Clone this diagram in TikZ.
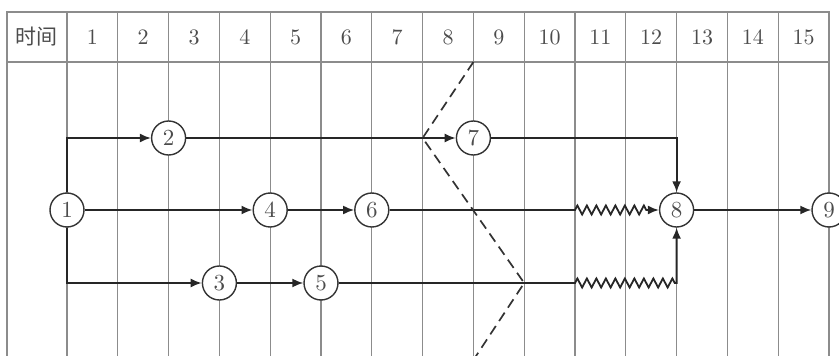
\documentclass[tikz,border=0pt]{standalone}
\usepackage{fontspec}
\setmainfont[Extension=.otf]{lmroman10-regular}
\newfontfamily\cjk{Noto Sans CJK SC}
\usetikzlibrary{decorations.pathmorphing,arrows.meta}
\begin{document}
\begin{tikzpicture}[x=1pt,y=-1pt,
  gridln/.style={draw=black!45,line width=1.3pt},
  hdr/.style={text=black!70,font=\fontsize{22}{24}\selectfont,inner sep=0pt},
  evt/.style={circle,draw=black!80,line width=1.4pt,fill=white,minimum size=34pt,inner sep=0pt,text=black!70,font=\fontsize{23}{24}\selectfont},
  act/.style={draw=black!85,line width=1.8pt,-{Latex[length=11pt,width=9pt]}},
  zz/.style={decoration={zigzag,segment length=9.5pt,amplitude=4.5pt}},
  front/.style={draw=black!80,line width=1.7pt,dash pattern=on 10pt off 6pt}]
\useasboundingbox (0,0) rectangle (839,356);
\clip (0,0) rectangle (839,356);
\def\X#1{67+50.8*#1}
% grid
\draw[gridln] (7,12) rectangle (829,380);
\draw[gridln] (7,62) -- (829,62);
\foreach \k in {0,...,14} \draw[gridln] ({67+50.8*\k},12) -- ({67+50.8*\k},380);
% header
\node[hdr,font=\fontsize{21}{24}\selectfont] (h0) at (37,37) {\cjk 时间};
\foreach \k in {1,...,15} \node[hdr] (h\k) at ({67+50.8*(\k-0.5)},37) {\k};
% events
\node[evt] (n1) at ({\X{0}},210) {1};
\node[evt] (n2) at ({\X{2}},138) {2};
\node[evt] (n3) at ({\X{3}},283) {3};
\node[evt] (n4) at ({\X{4}},210) {4};
\node[evt] (n5) at ({\X{5}},283) {5};
\node[evt] (n6) at ({\X{6}},210) {6};
\node[evt] (n7) at ({\X{8}},138) {7};
\node[evt] (n8) at ({\X{12}},210) {8};
\node[evt] (n9) at ({\X{15}},210) {9};
% helper coordinates
\coordinate (z1) at ({\X{10}},210);
\coordinate (z1e) at (648,210);
\coordinate (z2) at ({\X{10}},283);
\coordinate (z2e) at ({\X{12}},283);
\coordinate (d1) at ({\X{8}},62);
\coordinate (d2) at ({\X{7}},138);
\coordinate (d3) at ({\X{9}},283);
\coordinate (d4) at ({\X{8}},360);
% activities
\draw[act] (n1) |- (n2);
\draw[act] (n1) |- (n3);
\draw[act] (n1) -- (n4);
\draw[act] (n4) -- (n6);
\draw[act] (n3) -- (n5);
\draw[act] (n2) -- (n7);
\draw[act] (n7) -| (n8);
\draw[act] (n6) -- (z1) decorate[zz]{-- (z1e)} -- (n8);
\draw[act] (n5) -- (z2) decorate[zz]{-- (z2e)} -- (n8);
\draw[act] (n8) -- (n9);
% check line
\draw[front] (d1) -- (d2) -- (d3) -- (d4);
\end{tikzpicture}
\end{document}
